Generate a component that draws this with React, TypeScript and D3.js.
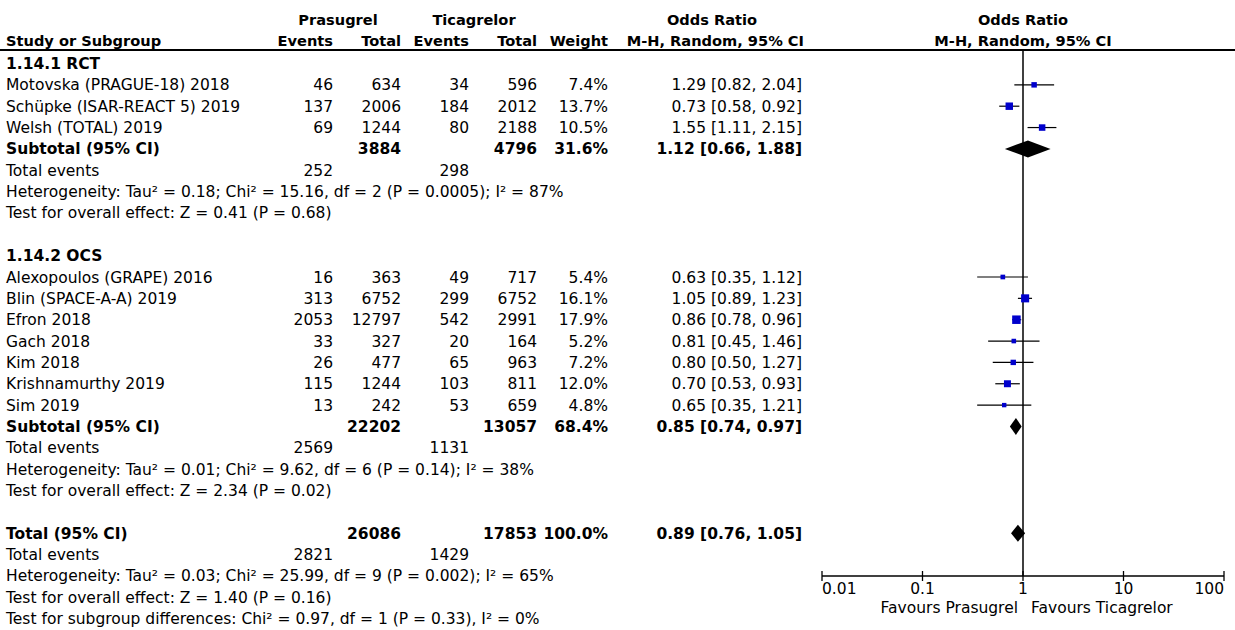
import React from "react";
import * as d3 from "d3";

// ---- Data ----
const studyNames = [
  "Motovska (PRAGUE-18) 2018",
  "Schüpke (ISAR-REACT 5) 2019",
  "Welsh (TOTAL) 2019",
  "Alexopoulos (GRAPE) 2016",
  "Blin (SPACE-A-A) 2019",
  "Efron 2018",
  "Gach 2018",
  "Kim 2018",
  "Krishnamurthy 2019",
  "Sim 2019",
];
const studyGroup = [0, 0, 0, 1, 1, 1, 1, 1, 1, 1];
const prasEvents = [46, 137, 69, 16, 313, 2053, 33, 26, 115, 13];
const prasTotal = [634, 2006, 1244, 363, 6752, 12797, 327, 477, 1244, 242];
const ticaEvents = [34, 184, 80, 49, 299, 542, 20, 65, 103, 53];
const ticaTotal = [596, 2012, 2188, 717, 6752, 2991, 164, 963, 811, 659];
const weights = [7.4, 13.7, 10.5, 5.4, 16.1, 17.9, 5.2, 7.2, 12.0, 4.8];
const orValues = [1.29, 0.73, 1.55, 0.63, 1.05, 0.86, 0.81, 0.8, 0.7, 0.65];
const orLower = [0.82, 0.58, 1.11, 0.35, 0.89, 0.78, 0.45, 0.5, 0.53, 0.35];
const orUpper = [2.04, 0.92, 2.15, 1.12, 1.23, 0.96, 1.46, 1.27, 0.93, 1.21];

const groupLabels = ["1.14.1 RCT", "1.14.2 OCS"];
const subPrasTotal = [3884, 22202];
const subTicaTotal = [4796, 13057];
const subWeight = [31.6, 68.4];
const subOR = [1.12, 0.85];
const subLower = [0.66, 0.74];
const subUpper = [1.88, 0.97];
const subPrasEvents = [252, 2569];
const subTicaEvents = [298, 1131];
const subHetero = [
  "Heterogeneity: Tau² = 0.18; Chi² = 15.16, df = 2 (P = 0.0005); I² = 87%",
  "Heterogeneity: Tau² = 0.01; Chi² = 9.62, df = 6 (P = 0.14); I² = 38%",
];
const subTest = [
  "Test for overall effect: Z = 0.41 (P = 0.68)",
  "Test for overall effect: Z = 2.34 (P = 0.02)",
];

const totalPras = 26086;
const totalTica = 17853;
const totalWeight = 100.0;
const totalOR = 0.89;
const totalLower = 0.76;
const totalUpper = 1.05;
const totalPrasEvents = 2821;
const totalTicaEvents = 1429;
const totalHetero = "Heterogeneity: Tau² = 0.03; Chi² = 25.99, df = 9 (P = 0.002); I² = 65%";
const totalTest = "Test for overall effect: Z = 1.40 (P = 0.16)";
const subgroupTest = "Test for subgroup differences: Chi² = 0.97, df = 1 (P = 0.33), I² = 0%";

const axisTicks = [0.01, 0.1, 1, 10, 100];
const axisTickLabels = ["0.01", "0.1", "1", "10", "100"];
const favoursLeft = "Favours Prasugrel";
const favoursRight = "Favours Ticagrelor";

// ---- Layout ----
const W = 1235;
const H = 630;
const FONT = "'DejaVu Sans', Verdana, sans-serif";
const FS = 15.5;
const HFS = 14.6;
const xLabel = 6;
const colPE = 333;
const colPT = 401;
const colTE = 469;
const colTT = 537;
const colW = 608;
const colOR = 802;

const fmt2 = d3.format(".2f");
const fmtW = d3.format(".1f");
const orText = (o: number, l: number, u: number) => `${fmt2(o)} [${fmt2(l)}, ${fmt2(u)}]`;

export default function App() {
  const x = d3.scaleLog().domain([0.01, 100]).range([822, 1224]);
  const row = d3.scaleLinear().domain([0, 26]).range([63.5, 618.6]);
  const axisY = 576;
  const headerLineY = 50;
  const sq = d3.scaleSqrt().domain([0, 17.9]).range([0, 8.5]);

  const els: React.ReactNode[] = [];
  let k = 0;
  const txt = (xp: number, yc: number, s: string | number, anchor = "start", bold = false) => {
    els.push(
      <text key={k++} x={xp} y={yc + 5.5} textAnchor={anchor} fontWeight={bold ? "bold" : "normal"}>
        {s}
      </text>
    );
  };

  const diamond = (yc: number, o: number, l: number, u: number) => {
    const pts = [
      [x(l), yc],
      [x(o), yc - 8.5],
      [x(u), yc],
      [x(o), yc + 8.5],
    ];
    els.push(<path key={k++} d={d3.line()(pts as [number, number][])! + "Z"} fill="#000" />);
  };

  let r = 0;
  [0, 1].forEach((g) => {
    txt(xLabel, row(r), groupLabels[g], "start", true);
    r++;
    studyNames.forEach((name, i) => {
      if (studyGroup[i] !== g) return;
      const yc = row(r);
      txt(xLabel, yc, name);
      txt(colPE, yc, prasEvents[i], "end");
      txt(colPT, yc, prasTotal[i], "end");
      txt(colTE, yc, ticaEvents[i], "end");
      txt(colTT, yc, ticaTotal[i], "end");
      txt(colW, yc, fmtW(weights[i]) + "%", "end");
      txt(colOR, yc, orText(orValues[i], orLower[i], orUpper[i]), "end");
      els.push(
        <line key={k++} x1={x(orLower[i])} x2={x(orUpper[i])} y1={yc} y2={yc} stroke="#000" strokeWidth={1.2} />
      );
      const s = sq(weights[i]);
      els.push(<rect key={k++} x={x(orValues[i]) - s / 2} y={yc - s / 2} width={s} height={s} fill="#0000cc" />);
      r++;
    });
    let yc = row(r);
    txt(xLabel, yc, "Subtotal (95% CI)", "start", true);
    txt(colPT, yc, subPrasTotal[g], "end", true);
    txt(colTT, yc, subTicaTotal[g], "end", true);
    txt(colW, yc, fmtW(subWeight[g]) + "%", "end", true);
    txt(colOR, yc, orText(subOR[g], subLower[g], subUpper[g]), "end", true);
    diamond(yc, subOR[g], subLower[g], subUpper[g]);
    r++;
    yc = row(r);
    txt(xLabel, yc, "Total events");
    txt(colPE, yc, subPrasEvents[g], "end");
    txt(colTE, yc, subTicaEvents[g], "end");
    r++;
    txt(xLabel, row(r), subHetero[g]);
    r++;
    txt(xLabel, row(r), subTest[g]);
    r += 2;
  });

  let yc = row(r);
  txt(xLabel, yc, "Total (95% CI)", "start", true);
  txt(colPT, yc, totalPras, "end", true);
  txt(colTT, yc, totalTica, "end", true);
  txt(colW, yc, fmtW(totalWeight) + "%", "end", true);
  txt(colOR, yc, orText(totalOR, totalLower, totalUpper), "end", true);
  diamond(yc, totalOR, totalLower, totalUpper);
  r++;
  yc = row(r);
  txt(xLabel, yc, "Total events");
  txt(colPE, yc, totalPrasEvents, "end");
  txt(colTE, yc, totalTicaEvents, "end");
  r++;
  txt(xLabel, row(r), totalHetero);
  r++;
  txt(xLabel, row(r), totalTest);
  r++;
  txt(xLabel, row(r), subgroupTest);

  // headers
  const h1 = 19;
  const h2 = 40;
  const hdr = [
    <text key="h0" x={338} y={h1 + 5.5} textAnchor="middle">Prasugrel</text>,
    <text key="h1" x={474} y={h1 + 5.5} textAnchor="middle">Ticagrelor</text>,
    <text key="h2" x={712} y={h1 + 5.5} textAnchor="middle">Odds Ratio</text>,
    <text key="h3" x={x(1)} y={h1 + 5.5} textAnchor="middle">Odds Ratio</text>,
    <text key="h4" x={xLabel} y={h2 + 5.5}>Study or Subgroup</text>,
    <text key="h5" x={colPE} y={h2 + 5.5} textAnchor="end">Events</text>,
    <text key="h6" x={colPT} y={h2 + 5.5} textAnchor="end">Total</text>,
    <text key="h7" x={colTE} y={h2 + 5.5} textAnchor="end">Events</text>,
    <text key="h8" x={colTT} y={h2 + 5.5} textAnchor="end">Total</text>,
    <text key="h9" x={colW} y={h2 + 5.5} textAnchor="end">Weight</text>,
    <text key="h10" x={colOR + 2} y={h2 + 5.5} textAnchor="end">M-H, Random, 95% CI</text>,
    <text key="h11" x={x(1)} y={h2 + 5.5} textAnchor="middle">M-H, Random, 95% CI</text>,
  ];

  return (
    <div style={{ position: "absolute", left: 0, top: 0 }}>
      <svg width={W} height={H} style={{ display: "block", background: "#fff" }} fontFamily={FONT} fontSize={FS} fill="#000">
        <rect width={W} height={H} fill="#fff" />
        <g fontWeight="bold" fontSize={HFS}>{hdr}</g>
        <line x1={0} x2={W} y1={headerLineY} y2={headerLineY} stroke="#000" strokeWidth={2} />
        <line x1={x(1)} x2={x(1)} y1={headerLineY} y2={axisY} stroke="#000" strokeWidth={1.5} />
        {els}
        <line x1={x(0.01)} x2={x(100)} y1={axisY} y2={axisY} stroke="#000" strokeWidth={1.5} />
        {axisTicks.map((t, i) => (
          <g key={"t" + i}>
            <line x1={x(t)} x2={x(t)} y1={axisY - 5} y2={axisY + 5} stroke="#000" strokeWidth={1.3} />
            <text
              x={x(t)}
              y={axisY + 18}
              textAnchor={i === 0 ? "start" : i === axisTicks.length - 1 ? "end" : "middle"}
            >
              {axisTickLabels[i]}
            </text>
          </g>
        ))}
        <text x={x(1) - 5} y={613} textAnchor="end">{favoursLeft}</text>
        <text x={x(1) + 8} y={613} textAnchor="start">{favoursRight}</text>
      </svg>
    </div>
  );
}
